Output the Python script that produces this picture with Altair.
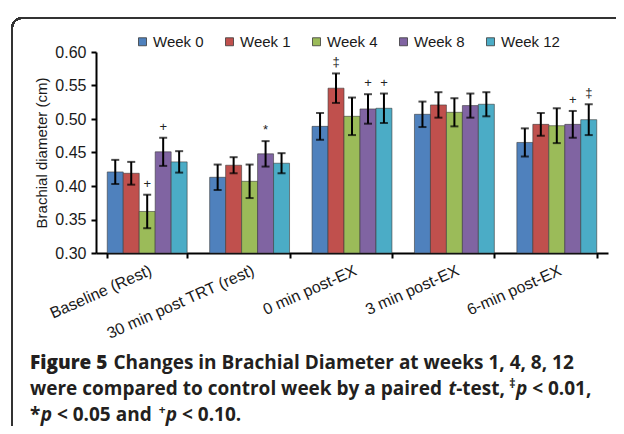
import altair as alt
import pandas as pd

categories = ["Baseline (Rest)", "30 min post TRT (rest)", "0 min post-EX", "3 min post-EX", "6-min post-EX"]
weeks = ["Week 0", "Week 1", "Week 4", "Week 8", "Week 12"]
colors = ["#4F81BD", "#C0504D", "#9BBB59", "#8064A2", "#4BACC6"]

week0_mean = [0.421, 0.413, 0.489, 0.507, 0.465]
week1_mean = [0.419, 0.431, 0.546, 0.521, 0.492]
week4_mean = [0.362, 0.407, 0.504, 0.510, 0.490]
week8_mean = [0.451, 0.448, 0.515, 0.520, 0.492]
week12_mean = [0.436, 0.434, 0.516, 0.522, 0.499]

week0_err = [0.018, 0.019, 0.020, 0.019, 0.021]
week1_err = [0.017, 0.012, 0.022, 0.019, 0.017]
week4_err = [0.025, 0.025, 0.028, 0.021, 0.026]
week8_err = [0.021, 0.019, 0.022, 0.018, 0.020]
week12_err = [0.016, 0.015, 0.022, 0.018, 0.023]

y_ticks = [0.30, 0.35, 0.40, 0.45, 0.50, 0.55, 0.60]

annot_category = ["Baseline (Rest)", "Baseline (Rest)", "30 min post TRT (rest)", "0 min post-EX",
                  "0 min post-EX", "0 min post-EX", "6-min post-EX", "6-min post-EX"]
annot_week = ["Week 4", "Week 8", "Week 8", "Week 1", "Week 8", "Week 12", "Week 8", "Week 12"]
annot_symbol = ["+", "+", "*", "\u2021", "+", "+", "+", "\u2021"]

means = [week0_mean, week1_mean, week4_mean, week8_mean, week12_mean]
errs = [week0_err, week1_err, week4_err, week8_err, week12_err]
rows = []
for w, m, e in zip(weeks, means, errs):
    for c, mv, ev in zip(categories, m, e):
        rows.append({"category": c, "week": w, "mean": mv, "lo": mv - ev, "hi": mv + ev})
df = pd.DataFrame(rows)

annot = pd.DataFrame({"category": annot_category, "week": annot_week, "symbol": annot_symbol})
annot = annot.merge(df, on=["category", "week"], how="left")

FONT = "Liberation Sans"
CAP = "Open Sans"
TXT = "#1a1a1a"

x_enc = alt.X(
    "category:N", sort=categories,
    scale=alt.Scale(paddingInner=0.22, paddingOuter=0.11),
    axis=alt.Axis(title=None, labelAngle=-24, labelFontSize=16, labelFont=FONT, labelColor=TXT,
                  tickBand="extent", tickSize=5, tickWidth=2, tickColor="black",
                  domainColor="black", domainWidth=2, labelPadding=4, labelLimit=300),
)
xo_enc = alt.XOffset("week:N", sort=weeks, scale=alt.Scale(paddingInner=0, paddingOuter=0))
y_scale = alt.Scale(domain=[0.3, 0.6], zero=False, nice=False)
y_axis = alt.Axis(values=y_ticks, format=".2f", title="Brachial diameter (cm)",
                  titleFontSize=15, titleFont=FONT, titleFontWeight="normal", titleColor=TXT,
                  labelFontSize=16, labelFont=FONT, labelColor=TXT, grid=False,
                  labelOverlap=False, labelFlush=False,
                  tickSize=5, tickWidth=2, tickColor="black", domainColor="black",
                  domainWidth=2, labelPadding=5, titlePadding=5)


def yq(field):
    return alt.Y(field, type="quantitative", scale=y_scale, axis=y_axis, title="Brachial diameter (cm)")


bars = alt.Chart(df).mark_bar(stroke="#3a3a3a", strokeWidth=0.6).encode(
    x=x_enc, xOffset=xo_enc,
    y=yq("mean"),
    y2=alt.Y2(datum=0.3),
    color=alt.Color("week:N", sort=weeks, scale=alt.Scale(domain=weeks, range=colors),
                    legend=alt.Legend(title=None, orient="none", legendX=39, legendY=-18,
                                      direction="horizontal", columns=5, gridAlign="all",
                                      columnPadding=10, symbolType="square", symbolSize=64,
                                      symbolStrokeColor="#3a3a3a", symbolStrokeWidth=0.8,
                                      labelFontSize=15, labelFont=FONT, labelColor=TXT,
                                      labelOffset=3, padding=0)),
)

rules = alt.Chart(df).mark_rule(color="black", strokeWidth=2).encode(
    x=x_enc, xOffset=xo_enc, y=yq("lo"), y2="hi:Q")
cap_lo = alt.Chart(df).mark_tick(color="black", thickness=2, size=8).encode(
    x=x_enc, xOffset=xo_enc, y=yq("lo"))
cap_hi = alt.Chart(df).mark_tick(color="black", thickness=2, size=8).encode(
    x=x_enc, xOffset=xo_enc, y=yq("hi"))

marks = alt.Chart(annot).mark_text(fontSize=13, font=FONT, color="#222222",
                                   baseline="middle", dy=-11).encode(
    x=x_enc, xOffset=xo_enc, y=yq("hi"), text="symbol:N")

frame = alt.Chart(df).mark_rect(fill=None, stroke="#333333", strokeWidth=1.5, cornerRadius=10).encode(
    x=alt.value(-84), x2=alt.value(900), y=alt.value(-34), y2=alt.value(900))

# approximate advance widths of Open Sans Bold (units per 2048 em)
ADV = {" ": 532, "*": 1124, "+": 1171, ",": 573, "-": 659, ".": 584, "<": 1171,
       "a": 1186, "b": 1255, "c": 1018, "d": 1255, "e": 1178, "f": 791, "g": 1124,
       "h": 1300, "i": 606, "k": 1221, "l": 606, "m": 1958, "n": 1300, "o": 1239,
       "p": 1255, "r": 886, "s": 983, "t": 805, "u": 1300, "w": 1743, "y": 1102,
       "B": 1386, "C": 1341, "D": 1503, "F": 1118, "\u2021": 1100}


def text_w(s, size):
    return sum(ADV.get(ch, 1171) for ch in s) / 2048 * size * 1.035


CS = 19
BASES = [369, 395, 421]


def caption_line(chunks, line, x0=30):
    out = []
    x = x0
    for text, opts in chunks:
        size = opts.get("size", CS)
        raise_ = opts.get("raise", 0)
        x += opts.get("space", 0) * text_w(" ", CS)
        out.append(alt.Chart(df.head(1)).mark_text(
            text=text, font=CAP, fontSize=size, fontWeight=opts.get("weight", 700),
            fontStyle="italic" if opts.get("italic") else "normal", align="left",
            baseline="alphabetic", color="#231f20").encode(
            x=alt.value(x - 96), y=alt.value(BASES[line] - 52 - raise_)))
        x += text_w(text, size) * opts.get("scale", 1.0)
    return out


caption = []
caption += caption_line([("Figure 5", {"weight": 800, "scale": 1.03}),
                         ("Changes in Brachial Diameter at weeks 1, 4, 8, 12", {"space": 1})], 0)
caption += caption_line([("were compared to control week by a paired", {}),
                         ("t", {"italic": True, "space": 1}),
                         ("-test,", {}),
                         ("\u2021", {"size": 12, "raise": 7, "space": 1}),
                         ("p", {"italic": True}),
                         ("< 0.01,", {"space": 0.8})], 1)
caption += caption_line([("*", {}),
                         ("p", {"italic": True}),
                         ("< 0.05 and", {"space": 0.8}),
                         ("+", {"size": 12, "raise": 7, "space": 1}),
                         ("p", {"italic": True}),
                         ("< 0.10.", {"space": 0.8})], 2)

chart = alt.layer(frame, bars, rules, cap_lo, cap_hi, marks, *caption).properties(
    width=512, height=201,
    autosize=alt.AutoSizeParams(type="none"),
    padding={"left": 88, "top": 44, "right": 8, "bottom": 173},
).configure_view(stroke=None)

chart.save("out.html", embed_options={"renderer": "svg", "actions": False})
